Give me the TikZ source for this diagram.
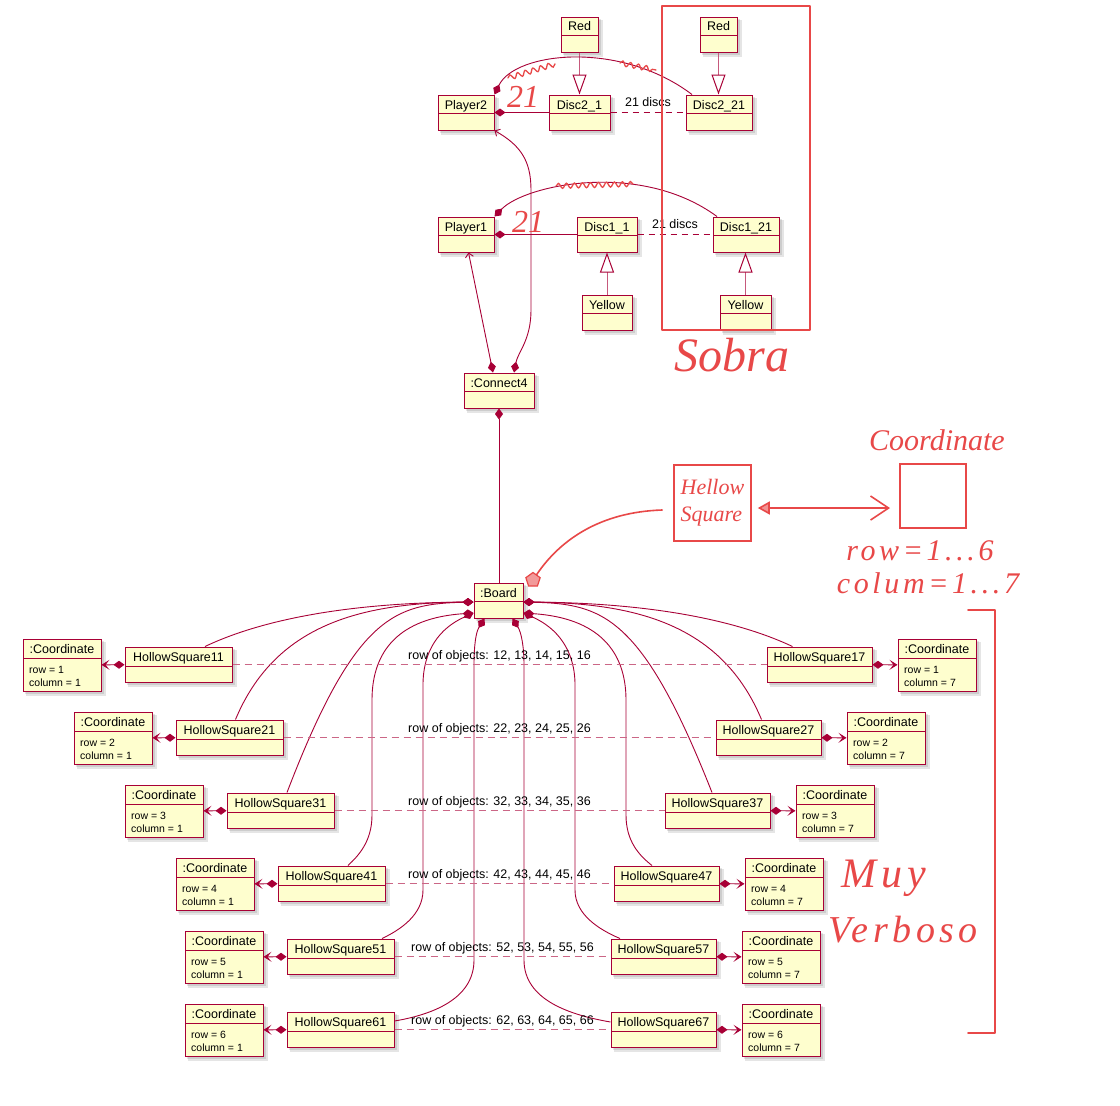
\documentclass[tikz,border=0pt]{standalone}
\usepackage{fontspec}
\setmainfont{Liberation Sans}
\newfontfamily\hand{Liberation Serif}
\newfontfamily\handw[LetterSpace=12]{Liberation Serif}
\usetikzlibrary{arrows.meta,fit,shapes.geometric,decorations.pathmorphing}
\definecolor{pu}{HTML}{A80036}
\definecolor{pufill}{HTML}{FEFECE}
\definecolor{pen}{RGB}{232,72,72}
\tikzset{
  objbox/.style={draw=pu, fill=pufill, line width=1pt, inner sep=0pt, rectangle},
  namef/.style={font=\fontsize{12.5}{14}\selectfont, inner sep=0pt},
  fieldf/.style={font=\fontsize{10.5}{12.5}\selectfont, inner sep=0pt, anchor=base west},
  conn/.style={draw=pu, line width=0.9pt},
  inhline/.style={draw=pu!65, line width=1pt},
  rowdash/.style={draw=pu!60, line width=1.6pt, dash pattern=on 7pt off 5pt},
  discdash/.style={draw=pu, line width=0.9pt, dash pattern=on 6pt off 5pt},
  rowlab/.style={font=\fontsize{12.5}{14}\selectfont, inner sep=0pt, anchor=base, yshift=5pt},
  penline/.style={draw=pen, line width=1.6pt, line cap=round, line join=round},
  penbox/.style={draw=pen, line width=1.6pt, inner sep=0pt, rectangle},
  scrib/.style={draw=pen, line width=1.3pt, line cap=round, decorate, decoration={snake, amplitude=2.5pt, segment length=8pt}},
  hw/.style={text=pen, inner sep=0pt},
  dmd/.tip={Diamond[length=11pt,width=8pt]},
  opn/.tip={Stealth[length=8pt,width=10pt,inset=4pt]},
  plarr/.tip={Straight Barb[length=4pt,width=8pt]},
  tri/.tip={Triangle[length=20pt,width=14pt,color=pu,fill=white]},
  pentri/.tip={Triangle[length=12pt,width=13pt,fill=pen!60]},
  penbarb/.tip={Straight Barb[length=18pt,width=24pt]},
}
\newcommand\umlobj[7]{%
  \fill[black,opacity=.10] ({#2+2},{#3+2}) rectangle ({#4+3},{#5+3});
  \fill[black,opacity=.10] ({#2+3},{#3+3}) rectangle ({#4+5},{#5+5});
  \node[objbox, fit={({#2},{#3}) ({#4},{#5})}] (#1) {};
  \draw[pu, line width=1pt] ({#2},{#6}) -- ({#4},{#6});
  \node[namef, anchor=base] (#1n) at ({(#2+#4)/2},{#6-4.5}) {#7};
}
\newcommand\coordbox[5]{%
  \umlobj{#1}{#2}{#3}{#2+78}{#3+52}{#3+19}{:Coordinate}
  \node[fieldf] (#1r) at ({#2+6},{#3+34}) {row = #4};
  \node[fieldf] (#1c) at ({#2+6},{#3+47}) {column = #5};
}
\begin{document}
\begin{tikzpicture}[x=1pt,y=-1pt]
\useasboundingbox (0,0) rectangle (1120,1106);
\fill[white] (0,0) rectangle (1120,1106);

% ---------- top objects ----------
\umlobj{R1}{561}{17}{598}{52}{35}{Red}
\umlobj{R2}{700}{17}{737}{52}{35}{Red}
\umlobj{P2}{438}{95}{494}{130}{113.5}{Player2}
\umlobj{D2a}{549}{95}{610}{130}{113.5}{Disc2\_1}
\umlobj{D2b}{686}{95}{752}{130}{113.5}{Disc2\_21}
\umlobj{P1}{438}{217}{494}{252}{235.5}{Player1}
\umlobj{D1a}{577}{217}{637}{252}{235.5}{Disc1\_1}
\umlobj{D1b}{713}{217}{779}{252}{235.5}{Disc1\_21}
\umlobj{Y1}{582}{295}{632}{330}{313.5}{Yellow}
\umlobj{Y2}{720}{295}{771}{330}{313.5}{Yellow}
\umlobj{C4}{464}{373}{534}{408}{391.5}{:Connect4}
\umlobj{B}{474}{583}{523}{618}{601.5}{:Board}

% ---------- hollow squares ----------
\umlobj{HSL1}{125}{647}{232}{682}{666}{HollowSquare11}
\umlobj{HSL2}{176}{720}{283}{755}{739}{HollowSquare21}
\umlobj{HSL3}{227}{793}{334}{828}{812}{HollowSquare31}
\umlobj{HSL4}{278}{866}{385}{901}{885}{HollowSquare41}
\umlobj{HSL5}{287}{939}{394}{974}{958}{HollowSquare51}
\umlobj{HSL6}{287}{1012}{394}{1047}{1031}{HollowSquare61}
\umlobj{HSR1}{767}{647}{872}{682}{666}{HollowSquare17}
\umlobj{HSR2}{716}{720}{821}{755}{739}{HollowSquare27}
\umlobj{HSR3}{665}{793}{770}{828}{812}{HollowSquare37}
\umlobj{HSR4}{614}{866}{719}{901}{885}{HollowSquare47}
\umlobj{HSR5}{611}{939}{716}{974}{958}{HollowSquare57}
\umlobj{HSR6}{611}{1012}{716}{1047}{1031}{HollowSquare67}

% ---------- coordinates ----------
\coordbox{CL1}{23}{639}{1}{1}
\coordbox{CL2}{74}{712}{2}{1}
\coordbox{CL3}{125}{785}{3}{1}
\coordbox{CL4}{176}{858}{4}{1}
\coordbox{CL5}{185}{931}{5}{1}
\coordbox{CL6}{185}{1004}{6}{1}
\coordbox{CR1}{898}{639}{1}{7}
\coordbox{CR2}{847}{712}{2}{7}
\coordbox{CR3}{796}{785}{3}{7}
\coordbox{CR4}{745}{858}{4}{7}
\coordbox{CR5}{742}{931}{5}{7}
\coordbox{CR6}{742}{1004}{6}{7}

% ---------- top connectors ----------
\draw[inhline, -tri] (R1) -- (D2a);
\draw[inhline, -tri] (R2.south) -- (R2.south |- D2b.north);
\draw[inhline, -tri] (Y1) -- (D1a);
\draw[inhline, -tri] (Y2.north) -- (Y2.north |- D1b.south);
\draw[conn, dmd-] (P2) -- (D2a);
\draw[conn, dmd-] (P1) -- (D1a);
\draw[discdash] (D2a) -- node[rowlab, yshift=1pt] {21 discs} (D2b);
\draw[discdash] (D1a) -- node[rowlab, yshift=1pt] {21 discs} (D1b);
\draw[conn, dmd-] (P2.north east) .. controls (515,52) and (620,40) .. ([xshift=-27pt]D2b.north);
\draw[conn, dmd-] (P1.north east) .. controls (525,185) and (640,160) .. ([xshift=-29pt]D1b.north);
\draw[conn, plarr-dmd] ([xshift=2.5pt]P1.south) -- ([xshift=-6pt]C4.north);
\draw[conn, plarr-dmd] (P2.south east) .. controls (520,145) and (531,160) .. (531,190)
   -- (531,310) .. controls (531,340) and (518,352) .. ([xshift=15pt]C4.north);
\draw[conn, dmd-] (C4.south) -- (C4.south |- B.north);

% ---------- board connectors ----------
\draw[conn, dmd-] ([yshift=-1.5pt]B.west) .. controls (330,603) and (250,625) .. ([xshift=26.5pt]HSL1.north);
\draw[conn, dmd-] ([yshift=-1.5pt]B.west) .. controls (360,603) and (275,625) .. ([xshift=6pt]HSL2.north);
\draw[conn, dmd-] ([yshift=-1.5pt]B.west) .. controls (395,604) and (355,615) .. ([xshift=6.5pt]HSL3.north);
\draw[conn, dmd-] ([yshift=-12.5pt]B.west) .. controls (400,618) and (372,650) .. (372,700)
   -- (372,815) .. controls (372,842) and (358,856) .. ([xshift=16.5pt]HSL4.north);
\draw[conn, dmd-] ([yshift=-12.5pt]B.west) .. controls (440,628) and (423,650) .. (423,685)
   -- (423,890) .. controls (423,915) and (400,930) .. ([xshift=41.5pt]HSL5.north);
\draw[conn, dmd-] ([xshift=-14pt]B.south) .. controls (476,632) and (474,645) .. (474,665)
   -- (474,960) .. controls (474,1000) and (430,1015) .. ([yshift=8.5pt]HSL6.east);
\draw[conn, dmd-] ([yshift=-1.5pt]B.east) .. controls (667,603) and (747,625) .. ([xshift=-27pt]HSR1.north);
\draw[conn, dmd-] ([yshift=-1.5pt]B.east) .. controls (637,603) and (722,625) .. ([xshift=-7pt]HSR2.north);
\draw[conn, dmd-] ([yshift=-1.5pt]B.east) .. controls (602,604) and (642,615) .. ([xshift=-5.5pt]HSR3.north);
\draw[conn, dmd-] ([yshift=-12.5pt]B.east) .. controls (597,618) and (626,650) .. (626,700)
   -- (626,815) .. controls (626,842) and (640,856) .. ([xshift=-14.5pt]HSR4.north);
\draw[conn, dmd-] ([yshift=-12.5pt]B.east) .. controls (557,628) and (575,650) .. (575,685)
   -- (575,890) .. controls (575,915) and (600,930) .. ([xshift=-43.5pt]HSR5.north);
\draw[conn, dmd-] ([xshift=14pt]B.south) .. controls (521,632) and (524,645) .. (524,665)
   -- (524,960) .. controls (524,1000) and (570,1015) .. ([yshift=7.5pt]HSR6.west);

% ---------- rows ----------
\draw[rowdash] (HSL1) -- node[rowlab] {row of objects: 12, 13, 14, 15, 16} (HSR1);
\draw[rowdash] (HSL2) -- node[rowlab] {row of objects: 22, 23, 24, 25, 26} (HSR2);
\draw[rowdash] (HSL3) -- node[rowlab] {row of objects: 32, 33, 34, 35, 36} (HSR3);
\draw[rowdash] (HSL4) -- node[rowlab] {row of objects: 42, 43, 44, 45, 46} (HSR4);
\draw[rowdash] (HSL5) -- node[rowlab] {row of objects: 52, 53, 54, 55, 56} (HSR5);
\draw[rowdash] (HSL6) -- node[rowlab] {row of objects: 62, 63, 64, 65, 66} (HSR6);

% ---------- coordinate links ----------
\draw[conn, opn-dmd] (CL1) -- (HSL1);
\draw[conn, opn-dmd] (CL2) -- (HSL2);
\draw[conn, opn-dmd] (CL3) -- (HSL3);
\draw[conn, opn-dmd] (CL4) -- (HSL4);
\draw[conn, opn-dmd] (CL5) -- (HSL5);
\draw[conn, opn-dmd] (CL6) -- (HSL6);
\draw[conn, dmd-opn] (HSR1) -- (CR1);
\draw[conn, dmd-opn] (HSR2) -- (CR2);
\draw[conn, dmd-opn] (HSR3) -- (CR3);
\draw[conn, dmd-opn] (HSR4) -- (CR4);
\draw[conn, dmd-opn] (HSR5) -- (CR5);
\draw[conn, dmd-opn] (HSR6) -- (CR6);

% ---------- hand annotations ----------
\draw[penline] (662,6) rectangle (810,330);
\node[hw, font=\hand\itshape\fontsize{48}{48}\selectfont] (sobra) at (732,355) {Sobra};
\node[hw, font=\hand\itshape\fontsize{32}{32}\selectfont] (n21a) at (523,97) {21};
\node[hw, font=\hand\itshape\fontsize{32}{32}\selectfont] (n21b) at (528,222) {21};
\draw[scrib] (508,78) -- (555,64);
\draw[scrib] (620,63) -- (656,70);
\draw[scrib] (556,186) -- (633,184);

\node[penbox, minimum width=77pt, minimum height=76pt, align=left, text=pen,
      font=\hand\itshape\fontsize{22}{27}\selectfont] (hsq) at (712.5,503) {Hellow\\Square};
\node[penbox, minimum width=66pt, minimum height=64pt] (csq) at (933,496) {};
\coordinate (arrR) at (890,508);
\draw[penline, pentri-penbarb] ([shift={(6pt,-5pt)}]hsq.east) -- (arrR);
\node[regular polygon, regular polygon sides=5, draw=pen, fill=pen!55, line width=1.2pt,
      minimum size=15pt, inner sep=0pt] (pent) at (533,580) {};
\draw[penline] ([shift={(-11pt,-7pt)}]hsq.west) .. controls (600,512) and (560,540) .. (pent);
\node[hw, font=\hand\itshape\fontsize{30}{30}\selectfont] (coordtxt) at (937,440) {Coordinate};
\node[hw, font=\handw\itshape\fontsize{30}{30}\selectfont] (rowtxt) at (920,551) {row=1...6};
\node[hw, font=\handw\itshape\fontsize{30}{30}\selectfont] (coltxt) at (928,583) {colum=1...7};
\draw[penline] (968,610) -- (995,610) -- (995,1033) -- (968,1033);
\node[hw, font=\handw\itshape\fontsize{42}{42}\selectfont] (muy) at (884,878) {Muy};
\node[hw, font=\handw\itshape\fontsize{38}{38}\selectfont] (verb) at (903,930) {Verboso};
\end{tikzpicture}
\end{document}
